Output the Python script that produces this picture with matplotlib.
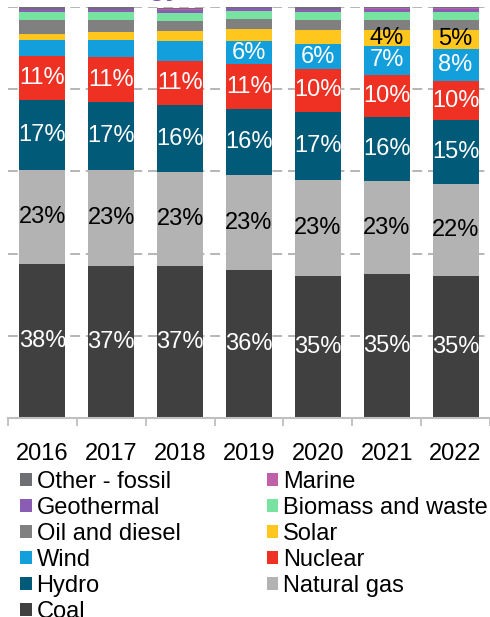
import matplotlib
matplotlib.use('Agg')
import matplotlib.pyplot as plt
from matplotlib.patches import Patch
import numpy as np

plt.rcParams['font.family'] = ['Liberation Sans', 'DejaVu Sans']

# Generation mix shares (%)
years = ['2016', '2017', '2018', '2019', '2020', '2021', '2022']
coal = [37.5, 37.0, 36.9, 36.0, 34.6, 35.0, 34.6]
natural_gas = [22.9, 23.3, 22.9, 23.1, 23.3, 22.6, 22.4]
hydro = [17.0, 16.6, 16.4, 16.1, 16.6, 15.6, 15.4]
nuclear = [10.7, 10.9, 10.7, 10.9, 10.4, 10.2, 9.7]
wind = [3.9, 4.1, 4.9, 5.6, 6.1, 7.2, 7.6]
solar = [1.5, 2.0, 2.4, 2.9, 3.4, 3.9, 4.8]
oil_diesel = [3.4, 2.9, 2.4, 2.4, 2.4, 2.4, 2.4]
biomass = [1.9, 2.0, 2.0, 2.0, 2.0, 2.0, 2.0]
geothermal = [0.7, 0.7, 0.7, 0.7, 0.7, 0.7, 0.7]
marine = [0.1, 0.1, 0.1, 0.1, 0.1, 0.1, 0.1]
other_fossil = [0.4, 0.4, 0.4, 0.3, 0.4, 0.3, 0.3]

# bottom -> top: (name, values, colour, label colour, min value to label)
series = [
    ('Coal', coal, '#404040', 'white', 0),
    ('Natural gas', natural_gas, '#b3b3b3', 'black', 0),
    ('Hydro', hydro, '#005a78', 'white', 0),
    ('Nuclear', nuclear, '#ef3124', 'white', 0),
    ('Wind', wind, '#139fdb', 'white', 5.5),
    ('Solar', solar, '#ffc61e', 'black', 3.5),
    ('Oil and diesel', oil_diesel, '#808080', None, None),
    ('Biomass and waste', biomass, '#78e2a0', None, None),
    ('Geothermal', geothermal, '#8a5cb4', None, None),
    ('Marine', marine, '#c060a8', None, None),
    ('Other - fossil', other_fossil, '#6e6f73', None, None),
]

fig = plt.figure(figsize=(4.9, 6.17), dpi=100)
ax = fig.add_axes([8/490, 1 - 418/617, 482/490, 411/617])

x = np.arange(len(years))
bottom = np.zeros(len(years))
handles = {}
for name, vals, col, tcol, tmin in series:
    vals = np.array(vals)
    ax.bar(x, vals, 0.67, bottom=bottom, color=col, zorder=2)
    handles[name] = Patch(facecolor=col)
    if tcol is not None:
        for xi, b, v in zip(x, bottom, vals):
            if v >= tmin:
                ax.text(xi, b + v / 2, '%d%%' % round(v), ha='center', va='center',
                        color=tcol, fontsize=17, zorder=3)
    bottom += vals

ax.set_xlim(-0.5, len(years) - 0.5)
ax.set_ylim(0, 100)
ax.set_yticks([20, 40, 60, 80, 100])
ax.yaxis.grid(True, color='#b5b5b5', linestyle=(0, (5, 3)), linewidth=1.4, zorder=0)
ax.set_axisbelow(True)
ax.tick_params(axis='y', left=False, labelleft=False)

ax.set_xticks(x)
ax.set_xticklabels(years, fontsize=17)
ax.set_xticks(np.arange(-0.5, len(years)), minor=True)
ax.tick_params(axis='x', which='major', length=0, pad=18)
ax.tick_params(axis='x', which='minor', length=6, color='#bfbfbf', width=1.3)

for s in ['top', 'right', 'left']:
    ax.spines[s].set_visible(False)
ax.spines['bottom'].set_color('#bfbfbf')
ax.spines['bottom'].set_linewidth(1.5)

# title fragment, cut off by the top edge
fig.text(0.37, 1.008, 'Energy', color='#7b52ab', fontsize=20, fontweight='bold',
         ha='right', va='baseline')

order = ['Other - fossil', 'Geothermal', 'Oil and diesel', 'Wind', 'Hydro', 'Coal',
         'Marine', 'Biomass and waste', 'Solar', 'Nuclear', 'Natural gas']
fig.legend([handles[n] for n in order], order, ncol=2, loc='upper left',
           bbox_to_anchor=(20/490, 1 - 471/617), frameon=False, fontsize=17,
           handlelength=0.5, handleheight=0.5, handletextpad=0.2,
           labelspacing=0.17, columnspacing=3.65, borderpad=0, borderaxespad=0)

fig.savefig('out.png', dpi=100)
